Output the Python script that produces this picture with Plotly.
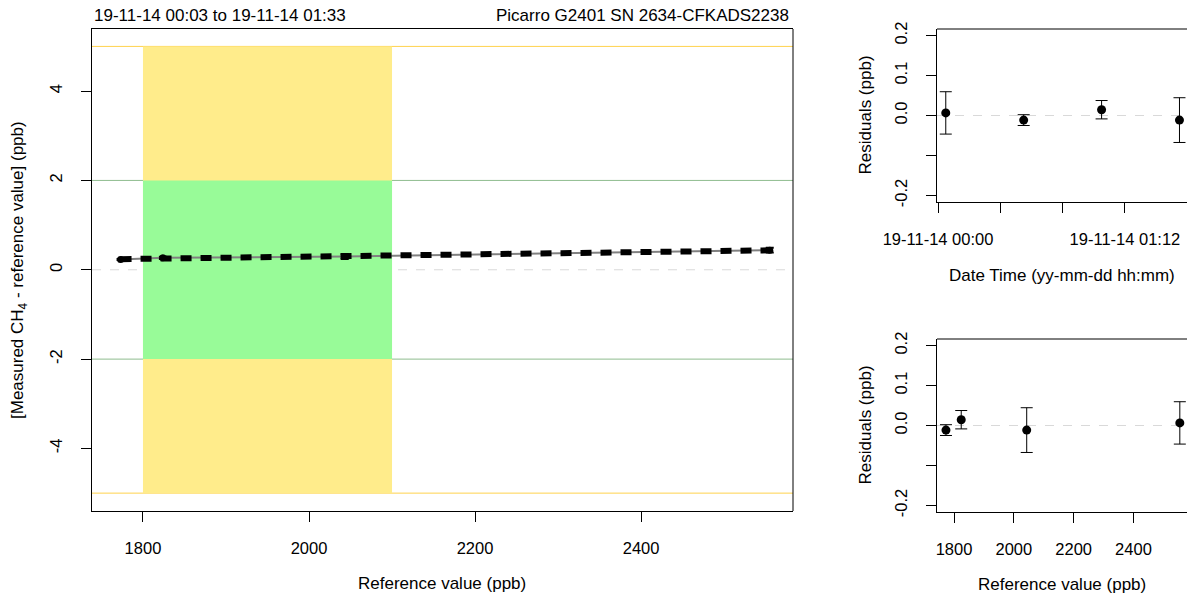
import numpy as np
import plotly.graph_objects as go

# Calibration measurements (one entry per reference-gas run, in time order)
run_times = ["2019-11-14 00:03:00", "2019-11-14 00:33:00",
             "2019-11-14 01:03:00", "2019-11-14 01:33:00"]
reference_ppb = [2555, 1773, 1824, 2043]
measured_minus_ref = [0.4375, 0.230, 0.267, 0.296]
residuals = [0.0065, -0.0115, 0.0145, -0.0115]
residual_err = [0.053, 0.0135, 0.023, 0.056]

# Tolerance bands for the ambient concentration range
band_x = [1800, 2100]
inner_limit = 2
outer_limit = 5

main_yticks = [-4, -2, 0, 2, 4]
main_yticktext = ["-4", "-2", "0", "2", "4"]
main_xticks = [1800, 2000, 2200, 2400]
res_yticks = [-0.2, 0.0, 0.1, 0.2]
res_yticktext = ["-0.2", "0.0", "0.1", "0.2"]
res_minor_yticks = [-0.1]
time_ticks = ["2019-11-14 00:00:00", "2019-11-14 01:12:00"]
time_ticktext = ["19-11-14 00:00", "19-11-14 01:12"]
time_minor_ticks = ["2019-11-14 00:24:00", "2019-11-14 00:48:00"]

FONT = "Liberation Sans, Arial, sans-serif"
W, H = 1187, 595


def px_x(p):
    return p / W


def px_y(p):
    return 1 - p / H


# linear fit of deviation vs reference
order = np.argsort(reference_ppb)
ref_sorted = np.array(reference_ppb)[order]
dev_sorted = np.array(measured_minus_ref)[order]
err_sorted = np.array(residual_err)[order]
slope, intercept = np.polyfit(ref_sorted, dev_sorted, 1)
fit_x = np.array([ref_sorted[0], ref_sorted[-1]])
fit_y = intercept + slope * fit_x

fig = go.Figure()

# main panel: connecting line, fit line and points
fig.add_trace(go.Scatter(x=ref_sorted, y=dev_sorted, mode="lines",
                         line=dict(color="#808080", width=2),
                         xaxis="x", yaxis="y", showlegend=False))
fig.add_trace(go.Scatter(x=fit_x, y=fit_y, mode="lines",
                         line=dict(color="black", width=6, dash="11px,9px"),
                         xaxis="x", yaxis="y", showlegend=False))
fig.add_trace(go.Scatter(x=ref_sorted, y=dev_sorted, mode="markers",
                         marker=dict(color="black", size=7),
                         error_y=dict(type="data", array=err_sorted, color="black",
                                      thickness=2, width=4),
                         xaxis="x", yaxis="y", showlegend=False))

# residuals vs time
fig.add_trace(go.Scatter(x=run_times, y=residuals, mode="markers",
                         marker=dict(color="black", size=9),
                         error_y=dict(type="data", array=residual_err, color="black",
                                      thickness=1, width=6),
                         xaxis="x2", yaxis="y2", showlegend=False))

# residuals vs reference value
fig.add_trace(go.Scatter(x=reference_ppb, y=residuals, mode="markers",
                         marker=dict(color="black", size=9),
                         error_y=dict(type="data", array=residual_err, color="black",
                                      thickness=1, width=6),
                         xaxis="x3", yaxis="y3", showlegend=False))

shapes = [
    # outer (yellow) band and inner (green) band
    dict(type="rect", xref="x", yref="y", x0=band_x[0], x1=band_x[1],
         y0=-outer_limit, y1=outer_limit, fillcolor="#FFEC8B", line_width=0, layer="below"),
    dict(type="rect", xref="x", yref="y", x0=band_x[0], x1=band_x[1],
         y0=-inner_limit, y1=inner_limit, fillcolor="#98FB98", line_width=0, layer="below"),
    dict(type="line", xref="x domain", yref="y", x0=0, x1=1, y0=outer_limit, y1=outer_limit,
         line=dict(color="#FFD24D", width=1), layer="below"),
    dict(type="line", xref="x domain", yref="y", x0=0, x1=1, y0=-outer_limit, y1=-outer_limit,
         line=dict(color="#FFD24D", width=1), layer="below"),
    dict(type="line", xref="x domain", yref="y", x0=0, x1=1, y0=inner_limit, y1=inner_limit,
         line=dict(color="#8FBC8F", width=1), layer="below"),
    dict(type="line", xref="x domain", yref="y", x0=0, x1=1, y0=-inner_limit, y1=-inner_limit,
         line=dict(color="#8FBC8F", width=1), layer="below"),
    dict(type="line", xref="x domain", yref="y", x0=0, x1=1, y0=0, y1=0,
         line=dict(color="#D9D9D9", width=1, dash="dash"), layer="below"),
    dict(type="line", xref="x2 domain", yref="y2", x0=0, x1=1, y0=0, y1=0,
         line=dict(color="#D9D9D9", width=1, dash="dash"), layer="below"),
    dict(type="line", xref="x3 domain", yref="y3", x0=0, x1=1, y0=0, y1=0,
         line=dict(color="#D9D9D9", width=1, dash="dash"), layer="below"),
    # plot box of main panel (right edge)
    dict(type="line", xref="x domain", yref="y domain", x0=1, x1=1, y0=0, y1=1,
         line=dict(color="black", width=1)),
    # top borders of the residual panels
    dict(type="line", xref="x2 domain", yref="y2 domain", x0=0, x1=1, y0=1, y1=1,
         line=dict(color="black", width=1)),
    dict(type="line", xref="x3 domain", yref="y3 domain", x0=0, x1=1, y0=1, y1=1,
         line=dict(color="black", width=1)),
]

tickfont = dict(family=FONT, size=16.5, color="black")
common_axis = dict(showgrid=False, zeroline=False, showline=True, linecolor="black",
                   linewidth=1, ticks="outside", ticklen=10, tickcolor="black",
                   tickfont=tickfont, automargin=False, ticklabelstandoff=12)
minor_ticks = dict(ticks="outside", ticklen=10, tickcolor="black", showgrid=False)

fig.update_layout(
    template="none",
    width=W, height=H, margin=dict(l=0, r=0, t=0, b=0, pad=0, autoexpand=False),
    paper_bgcolor="white", plot_bgcolor="white",
    font=dict(family=FONT, size=17, color="black"),
    shapes=shapes, showlegend=False,
    xaxis=dict(domain=[px_x(92), px_x(793)], range=[1738.6, 2583], anchor="y",
               tickvals=main_xticks, mirror=True, **common_axis),
    yaxis=dict(domain=[px_y(511), px_y(29)], range=[-5.4, 5.39], anchor="x",
               tickvals=main_yticks, ticktext=main_yticktext, tickangle=-90,
               **common_axis),
    xaxis2=dict(domain=[px_x(937), 1.0], anchor="y2", type="date",
                range=["2019-11-13 23:59:37", "2019-11-14 01:35:54"],
                tickvals=time_ticks, ticktext=time_ticktext,
                minor=dict(tickvals=time_minor_ticks, **minor_ticks), **common_axis),
    yaxis2=dict(domain=[px_y(202), px_y(29)], range=[-0.2165, 0.2165], anchor="x2",
                tickvals=res_yticks, ticktext=res_yticktext, tickangle=-90,
                minor=dict(tickvals=res_minor_yticks, **minor_ticks), **common_axis),
    xaxis3=dict(domain=[px_x(937), 1.0], anchor="y3", range=[1743, 2579],
                tickvals=main_xticks, **common_axis),
    yaxis3=dict(domain=[px_y(512), px_y(339)], range=[-0.2165, 0.2165], anchor="x3",
                tickvals=res_yticks, ticktext=res_yticktext, tickangle=-90,
                minor=dict(tickvals=res_minor_yticks, **minor_ticks), **common_axis),
)

ann_font = dict(family=FONT, size=17, color="black")
annotations = [
    dict(text="19-11-14 00:03 to 19-11-14 01:33", x=px_x(92), y=px_y(15),
         xanchor="left", yanchor="middle"),
    dict(text="Picarro G2401 SN 2634-CFKADS2238", x=px_x(791), y=px_y(15),
         xanchor="right", yanchor="middle"),
    dict(text="Reference value (ppb)", x=px_x(442), y=px_y(583),
         xanchor="center", yanchor="middle"),
    dict(text="[Measured CH<sub>4</sub> - reference value] (ppb)", x=px_x(19), y=px_y(270),
         xanchor="center", yanchor="middle", textangle=-90),
    dict(text="Residuals (ppb)", x=px_x(865), y=px_y(115.5),
         xanchor="center", yanchor="middle", textangle=-90),
    dict(text="Residuals (ppb)", x=px_x(865), y=px_y(425.5),
         xanchor="center", yanchor="middle", textangle=-90),
    dict(text="Date Time (yy-mm-dd hh:mm)", x=px_x(1062), y=px_y(275),
         xanchor="center", yanchor="middle"),
    dict(text="Reference value (ppb)", x=px_x(1062), y=px_y(584),
         xanchor="center", yanchor="middle"),
]
for a in annotations:
    fig.add_annotation(xref="paper", yref="paper", showarrow=False, font=ann_font, **a)

fig.write_html("out.html")
